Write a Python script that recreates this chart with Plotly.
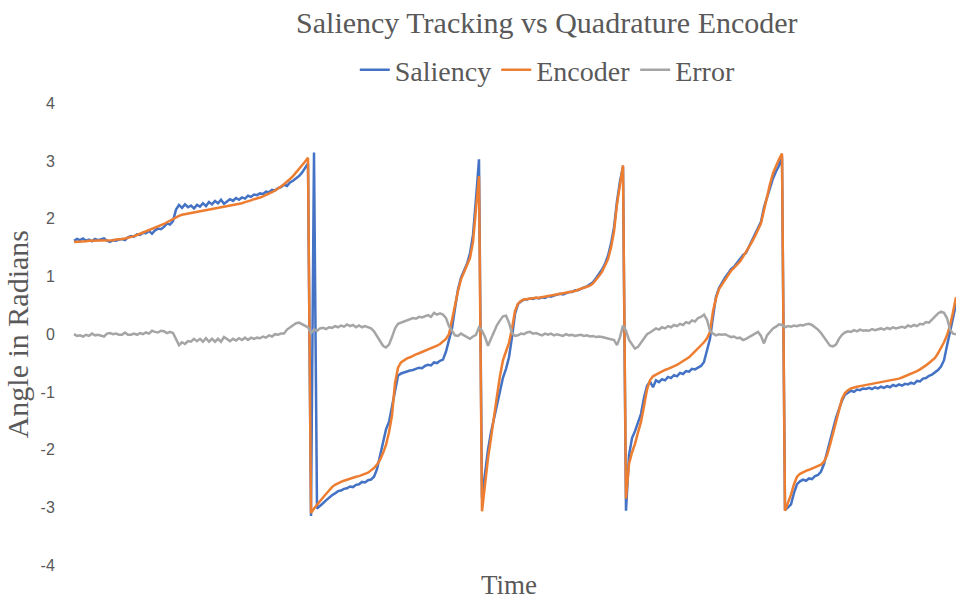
import plotly.graph_objects as go

# ---- data (sample index along time, values in radians) ----
encoder = [
    # segment 1
    1.60, 1.60, 1.61, 1.61, 1.61, 1.62, 1.62, 1.62, 1.62, 1.62,
    1.62, 1.63, 1.63, 1.63, 1.64, 1.64, 1.65, 1.66, 1.67, 1.69,
    1.70, 1.72, 1.74, 1.76, 1.78, 1.80, 1.82, 1.84, 1.86, 1.88,
    1.91, 1.94, 1.97, 2.00, 2.03, 2.05, 2.07, 2.08, 2.09, 2.10,
    2.11, 2.12, 2.13, 2.14, 2.15, 2.16, 2.17, 2.18, 2.19, 2.20,
    2.21, 2.21, 2.22, 2.23, 2.25, 2.26, 2.27, 2.29, 2.30, 2.32,
    2.34, 2.35, 2.37, 2.39, 2.41, 2.44, 2.46, 2.49, 2.52, 2.56,
    2.60, 2.64, 2.69, 2.74, 2.80, 2.86, 2.92, 2.99, 3.06,
    # wrap
    -3.10, -3.02, -2.95,
    # segment 2
    -2.89, -2.83, -2.77, -2.70, -2.65, -2.61, -2.58, -2.56, -2.54, -2.52,
    -2.50, -2.49, -2.47, -2.46, -2.44, -2.42, -2.40, -2.36, -2.32, -2.26,
    -2.18, -2.06, -1.92, -1.70, -1.41, -0.85, -0.58, -0.49, -0.45, -0.42,
    -0.40, -0.37, -0.35, -0.33, -0.31, -0.29, -0.27, -0.25, -0.22, -0.20,
    -0.17, -0.13, -0.08, 0.00, 0.25, 0.55, 0.75, 0.95, 1.07, 1.20,
    1.32, 1.60, 2.20, 2.74,
    # segment 3
    -3.07, -2.60, -2.15, -1.80, -1.40, -1.07, -0.72, -0.45, -0.30, -0.15,
    0.10, 0.40, 0.53, 0.58, 0.60, 0.61, 0.62, 0.62, 0.63, 0.63,
    0.64, 0.65, 0.65, 0.66, 0.67, 0.68, 0.69, 0.70, 0.71, 0.72,
    0.74, 0.75, 0.77, 0.79, 0.80, 0.82, 0.84, 0.88, 0.94, 1.01,
    1.08, 1.18, 1.30, 1.50, 1.78, 2.25, 2.62, 2.93,
    # segment 4
    -2.85, -2.25, -2.05, -1.90, -1.70, -1.52, -1.25, -0.96, -0.80, -0.73,
    -0.70, -0.67, -0.65, -0.62, -0.60, -0.58, -0.56, -0.53, -0.50, -0.47,
    -0.43, -0.40, -0.35, -0.30, -0.25, -0.19, -0.14, -0.07, 0.04, 0.40,
    0.62, 0.78, 0.86, 0.95, 1.03, 1.10, 1.15, 1.20, 1.26, 1.34,
    1.42, 1.51, 1.60, 1.70, 1.80, 1.92, 2.15, 2.39, 2.60, 2.79,
    2.92, 3.03, 3.13,
    # segment 5
    -3.06, -2.92, -2.78, -2.60, -2.47, -2.42, -2.39, -2.37, -2.35, -2.33,
    -2.31, -2.29, -2.26, -2.21, -2.10, -1.92, -1.72, -1.50, -1.30, -1.12,
    -1.02, -0.97, -0.94, -0.92, -0.91, -0.90, -0.89, -0.88, -0.87, -0.87,
    -0.86, -0.85, -0.84, -0.83, -0.82, -0.81, -0.79, -0.78, -0.77, -0.75,
    -0.73, -0.71, -0.69, -0.67, -0.64, -0.61, -0.58, -0.54, -0.50, -0.46,
    -0.41, -0.33, -0.24, -0.14, -0.02, 0.15, 0.38, 0.64,
]

saliency = [
    # segment 1
    1.62, 1.65, 1.63, 1.66, 1.62, 1.64, 1.61, 1.65, 1.63, 1.64,
    1.66, 1.62, 1.60, 1.63, 1.62, 1.64, 1.65, 1.63, 1.68, 1.70,
    1.69, 1.73, 1.72, 1.76, 1.75, 1.79, 1.74, 1.80, 1.83, 1.82,
    1.86, 1.92, 1.90, 1.96, 2.16, 2.24, 2.19, 2.25, 2.20, 2.23,
    2.18, 2.24, 2.21, 2.27, 2.22, 2.29, 2.25, 2.31, 2.27, 2.33,
    2.26, 2.30, 2.34, 2.31, 2.36, 2.33, 2.37, 2.35, 2.40, 2.38,
    2.42, 2.41, 2.44, 2.43, 2.47, 2.46, 2.50, 2.49, 2.53, 2.55,
    2.59, 2.57, 2.63, 2.66, 2.70, 2.74, 2.80, 2.87, 2.96,
    # wrap (double crossing)
    -3.15, 3.15, -3.02,
    # segment 2
    -2.98, -2.93, -2.88, -2.83, -2.79, -2.76, -2.72, -2.71, -2.68, -2.67,
    -2.64, -2.65, -2.61, -2.60, -2.56, -2.57, -2.53, -2.52, -2.47, -2.34,
    -2.10, -1.85, -1.65, -1.52, -1.24, -0.95, -0.72, -0.68, -0.66, -0.64,
    -0.63, -0.62, -0.60, -0.58, -0.59, -0.55, -0.53, -0.54, -0.49, -0.50,
    -0.46, -0.44, -0.30, -0.12, 0.10, 0.45, 0.78, 0.98, 1.10, 1.22,
    1.40, 1.72, 2.35, 3.03,
    # segment 3
    -2.84, -2.40, -2.00, -1.70, -1.45, -1.20, -0.95, -0.75, -0.60, -0.40,
    -0.05, 0.35, 0.52, 0.57, 0.60, 0.60, 0.62, 0.61, 0.63, 0.62,
    0.64, 0.63, 0.66, 0.65, 0.67, 0.68, 0.70, 0.69, 0.71, 0.73,
    0.73, 0.76, 0.76, 0.79, 0.81, 0.83, 0.86, 0.90, 0.97, 1.04,
    1.12, 1.22, 1.36, 1.57, 1.85, 2.30, 2.65, 2.90,
    # segment 4
    -3.06, -2.10, -1.80, -1.68, -1.53, -1.38, -1.10, -0.90, -0.82, -0.92,
    -0.80, -0.83, -0.78, -0.80, -0.74, -0.76, -0.71, -0.73, -0.67, -0.69,
    -0.64, -0.65, -0.60, -0.61, -0.58, -0.55, -0.48, -0.30, -0.08, 0.30,
    0.65, 0.80, 0.90, 0.98, 1.05, 1.13, 1.17, 1.24, 1.30, 1.37,
    1.41, 1.52, 1.63, 1.72, 1.82, 1.95, 2.20, 2.38, 2.55, 2.70,
    2.82, 2.92, 3.08,
    # segment 5
    -3.05, -3.00, -2.95, -2.75, -2.60, -2.55, -2.52, -2.54, -2.50, -2.51,
    -2.46, -2.44, -2.38, -2.25, -2.05, -1.82, -1.65, -1.45, -1.30, -1.15,
    -1.05, -1.02, -0.98, -1.00, -0.96, -0.97, -0.94, -0.95, -0.93, -0.95,
    -0.92, -0.94, -0.91, -0.93, -0.90, -0.92, -0.88, -0.90, -0.87, -0.89,
    -0.86, -0.87, -0.84, -0.86, -0.81, -0.82, -0.77, -0.76, -0.72, -0.70,
    -0.66, -0.62, -0.56, -0.45, -0.20, 0.05, 0.30, 0.52,
]

error = [
    # segment 1
    0.00, -0.03, -0.02, -0.04, -0.01, -0.03, 0.01, -0.02, -0.01, -0.02,
    -0.04, 0.01, 0.02, 0.00, 0.01, -0.01, -0.01, 0.03, -0.01, -0.01,
    0.01, -0.01, 0.02, 0.00, 0.03, 0.01, 0.06, 0.04, 0.03, 0.06,
    0.05, 0.02, 0.04, 0.02, -0.10, -0.19, -0.14, -0.17, -0.12, -0.13,
    -0.08, -0.12, -0.08, -0.13, -0.07, -0.13, -0.08, -0.13, -0.08, -0.13,
    -0.05, -0.09, -0.12, -0.08, -0.11, -0.07, -0.10, -0.06, -0.10, -0.06,
    -0.08, -0.06, -0.07, -0.04, -0.06, -0.02, -0.04, 0.00, -0.01, 0.01,
    0.01, 0.08, 0.12, 0.15, 0.19, 0.20, 0.17, 0.14, 0.12,
    # wrap
    0.02, 0.08, 0.06,
    # segment 2
    0.10, 0.11, 0.09, 0.12, 0.11, 0.14, 0.12, 0.15, 0.13, 0.17,
    0.14, 0.16, 0.12, 0.15, 0.12, 0.14, 0.12, 0.10, 0.05, -0.04,
    -0.12, -0.20, -0.23, -0.18, -0.05, 0.10, 0.18, 0.20, 0.22, 0.23,
    0.26, 0.28, 0.27, 0.30, 0.29, 0.31, 0.33, 0.30, 0.37, 0.34,
    0.36, 0.34, 0.28, 0.14, 0.05, -0.02, -0.03, 0.01, -0.02, -0.05,
    -0.08, -0.04, -0.01, 0.12,
    # segment 3
    0.06, -0.05, -0.20, -0.08, 0.05, 0.16, 0.24, 0.31, 0.32, 0.20,
    0.02, -0.03, -0.02, 0.01, 0.00, 0.03, 0.04, 0.01, 0.02, 0.00,
    -0.02, 0.01, -0.01, 0.01, -0.02, 0.00, -0.01, -0.03, 0.00, -0.02,
    -0.01, -0.03, -0.02, -0.01, -0.03, -0.02, -0.04, -0.03, -0.05, -0.04,
    -0.05, -0.06, -0.07, -0.09, -0.10, -0.19, -0.05, 0.15,
    # segment 4
    0.06, -0.10, -0.18, -0.25, -0.22, -0.15, -0.08, 0.00, 0.03, 0.06,
    0.10, 0.08, 0.12, 0.10, 0.14, 0.12, 0.16, 0.14, 0.18, 0.16,
    0.21, 0.19, 0.24, 0.22, 0.28, 0.30, 0.34, 0.25, 0.06, 0.01,
    -0.02, 0.00, -0.01, 0.00, -0.03, -0.05, -0.04, -0.07, -0.06, -0.10,
    -0.08, -0.05, -0.02, 0.00, 0.04, -0.03, -0.16, -0.02, 0.05, 0.10,
    0.13, 0.17, 0.16,
    # segment 5
    0.12, 0.14, 0.13, 0.15, 0.14, 0.16, 0.15, 0.17, 0.18, 0.16,
    0.12, 0.08, 0.02, -0.05, -0.14, -0.20, -0.21, -0.18, -0.08, -0.01,
    0.03, 0.05, 0.04, 0.07, 0.05, 0.08, 0.06, 0.07, 0.06, 0.09,
    0.07, 0.08, 0.10, 0.08, 0.11, 0.09, 0.12, 0.10, 0.12, 0.13,
    0.11, 0.15, 0.13, 0.16, 0.14, 0.18, 0.17, 0.21, 0.20, 0.25,
    0.31, 0.36, 0.39, 0.37, 0.28, 0.08, 0.01, 0.00,
]

if not (len(encoder) == len(saliency) == len(error)):
    raise SystemExit(f"length mismatch {len(encoder)} {len(saliency)} {len(error)}")

time = list(range(len(encoder)))
y_ticks = [-4, -3, -2, -1, 0, 1, 2, 3, 4]
y_tick_text = ["-4", "-3", "-2", "-1", "0", "1", "2", "3", "4"]

SERIF = "Liberation Serif"
TEXT = "#595959"

fig = go.Figure()
fig.add_trace(go.Scatter(x=time, y=saliency, mode="lines", name="Saliency",
                         line=dict(color="#4472C4", width=2.5)))
fig.add_trace(go.Scatter(x=time, y=encoder, mode="lines", name="Encoder",
                         line=dict(color="#ED7D31", width=2.5)))
fig.add_trace(go.Scatter(x=time, y=error, mode="lines", name="Error",
                         line=dict(color="#A5A5A5", width=2.5)))

fig.update_layout(
    width=956, height=601,
    margin=dict(l=62, r=0, t=96, b=36),
    paper_bgcolor="white", plot_bgcolor="white",
    font=dict(family=SERIF, color=TEXT),
    title=dict(text="Saliency Tracking vs Quadrature Encoder",
               font=dict(family=SERIF, size=30, color=TEXT),
               x=0.572, xanchor="center", xref="container",
               y=1 - 22 / 601, yanchor="middle", yref="container"),
    legend=dict(orientation="h", xref="container", yref="container",
                x=0.573, xanchor="center", y=1 - 70 / 601, yanchor="middle",
                font=dict(family=SERIF, size=28, color=TEXT),
                itemwidth=30, tracegroupgap=0, bgcolor="rgba(0,0,0,0)"),
    xaxis=dict(range=[-4, len(time) - 1], showticklabels=False, showgrid=False,
               zeroline=False, showline=False, ticks="",
               title=dict(text="Time", font=dict(family=SERIF, size=27, color=TEXT),
                          standoff=10)),
    yaxis=dict(range=[-4, 4], tickvals=y_ticks, ticktext=y_tick_text,
               showgrid=False, zeroline=False,
               showline=False, ticks="outside", ticklen=3,
               tickcolor="rgba(0,0,0,0)",
               tickfont=dict(family="Liberation Sans", size=16, color=TEXT),
               title=dict(text="Angle in Radians",
                          font=dict(family=SERIF, size=30, color=TEXT),
                          standoff=3)),
)

fig.write_html("out.html")
